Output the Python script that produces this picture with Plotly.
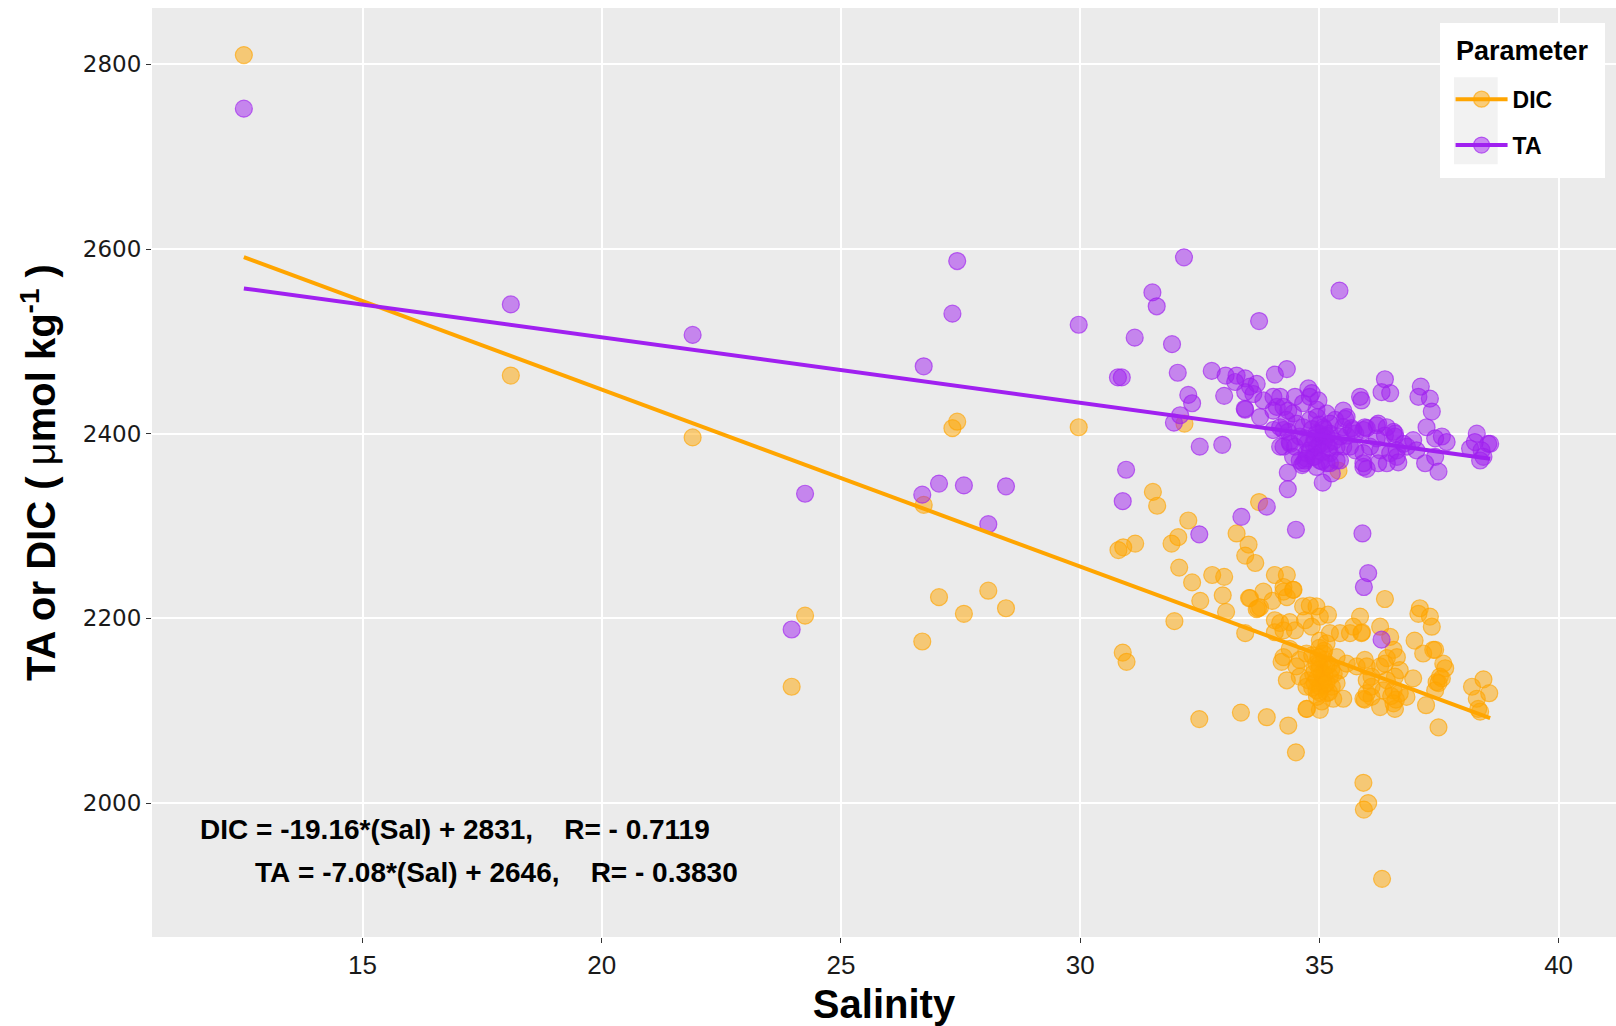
import plotly.graph_objects as go

# ---------------- data ----------------
sal_ta = [12.52, 18.10, 21.90, 23.97, 24.25, 26.70, 26.73, 27.05, 27.33, 27.43, 27.57, 28.08, 28.45, 29.97,
          30.79, 30.87, 30.96, 30.89, 31.14, 31.51, 31.60, 31.92, 32.17, 32.04, 32.75, 33.04, 32.26, 32.34,
          33.01, 32.09, 31.96, 32.50, 32.97, 33.37, 33.90, 32.49, 33.74, 33.24, 33.45, 33.55, 33.69, 33.62,
          33.45, 33.45, 33.76, 33.27, 33.44, 33.83,
          34.07, 34.32, 34.04, 34.18, 34.04, 34.04, 34.11, 34.25, 34.35, 34.25, 34.25, 34.39, 34.18,
          34.51, 34.34, 34.34, 35.07, 34.64, 34.73, 35.26, 34.67, 35.22,
          35.42, 35.90, 36.02, 35.93, 36.30,
          34.77, 34.84, 34.80, 34.98, 34.49, 34.66,
          35.50, 35.57, 35.54, 35.71, 35.64,
          34.38, 34.49, 34.59, 34.73, 34.70, 34.87, 35.01, 35.22, 35.36, 35.43, 35.50, 35.33, 35.15, 34.94,
          34.80, 34.66, 34.52, 34.45, 34.31, 34.18, 34.35, 34.94, 35.08, 35.22, 34.87, 35.01, 35.15, 34.80,
          34.59, 34.45, 35.36, 35.50, 35.43, 35.15, 34.94, 35.57, 35.67, 35.22, 35.08, 34.70,
          35.85, 35.88, 36.37, 36.30, 36.48,
          35.95, 36.20, 36.41, 36.55, 35.99, 36.20, 36.37, 36.58, 36.76, 36.62, 35.75,
          35.75, 35.92, 36.06, 36.27, 36.48, 36.62,
          35.92, 35.99, 36.23, 36.41, 36.65, 35.92,
          35.92, 36.23, 36.58,
          37.12, 37.07, 37.31, 37.35, 37.24, 37.42, 37.56, 37.66, 36.96, 36.83, 37.03, 37.42, 37.21, 37.49,
          38.29, 38.25, 38.53, 38.39, 38.15, 38.43, 38.36, 38.57,
          34.90, 35.00, 35.10, 34.95, 35.05, 35.15, 34.85, 35.00, 35.10, 34.90, 35.20, 34.75, 35.30, 35.05,
          34.95]
ta = [2752, 2540, 2507, 2188, 2335, 2334, 2473, 2346, 2530, 2587, 2344, 2302, 2343, 2518,
      2461, 2461, 2361, 2327, 2504, 2553, 2538, 2497, 2591, 2466, 2468, 2463, 2442, 2433,
      2441, 2420, 2412, 2386, 2388, 2310, 2321, 2291, 2522, 2456, 2460, 2451, 2454, 2443,
      2445, 2426, 2418, 2463, 2427, 2436,
      2464, 2470, 2440, 2440, 2425, 2404, 2429, 2429, 2425, 2404, 2386, 2389, 2386,
      2296, 2358, 2340, 2347, 2366, 2373, 2357, 2368, 2368,
      2555, 2292, 2249, 2234, 2177,
      2449, 2444, 2440, 2436, 2440, 2433,
      2425, 2418, 2416, 2404, 2386,
      2391, 2386, 2397, 2379, 2371, 2375, 2371, 2379, 2386, 2397, 2407, 2415, 2422, 2426,
      2415, 2407, 2411, 2422, 2415, 2407, 2402, 2400, 2397, 2400, 2389, 2389, 2389, 2382,
      2371, 2375, 2371, 2386, 2371, 2368, 2364, 2398, 2406, 2411, 2407, 2395,
      2440, 2436, 2459, 2445, 2444,
      2407, 2409, 2407, 2402, 2406, 2395, 2398, 2397, 2389, 2382, 2400,
      2382, 2379, 2386, 2382, 2379, 2375,
      2364, 2362, 2368, 2368, 2369, 2368,
      2404, 2411, 2400,
      2451, 2440, 2438, 2424, 2407, 2395, 2397, 2391, 2393, 2386, 2382, 2375, 2368, 2359,
      2400, 2391, 2389, 2382, 2384, 2375, 2371, 2389,
      2395, 2400, 2392, 2385, 2380, 2398, 2405, 2410, 2405, 2375, 2385, 2390, 2392, 2370,
      2418]

sal_dic = [12.52, 18.10, 21.90, 23.97, 24.25, 26.70, 26.73, 27.05, 27.33, 27.43, 27.57, 28.08, 28.45, 29.97,
           32.18, 35.40, 33.74, 31.52, 31.61, 32.26, 32.05, 31.91, 33.27, 33.52, 33.45, 33.66, 30.80, 30.90,
           31.15, 32.07, 32.34, 32.76, 33.01, 32.98, 32.51, 33.05, 31.97, 33.55, 33.83, 34.02, 33.69, 33.76,
           34.07, 34.32, 34.25, 34.46, 34.32, 33.45, 30.89, 30.97,
           36.37, 37.10, 37.07, 37.31, 37.35, 35.85, 35.89, 36.27, 36.48, 36.99, 37.17, 37.42, 37.59, 37.63,
           37.45, 37.52, 38.19, 38.43, 38.55, 38.29, 38.36, 37.23, 37.49, 32.49, 33.36, 33.90, 34.35, 34.74,
           35.01, 34.51, 35.92, 36.02, 35.93, 36.31,
           33.53, 33.72, 34.25, 34.45, 34.07, 34.18, 34.38, 34.25, 34.07, 34.49, 34.66, 34.80, 34.94, 34.70,
           34.84, 35.01, 35.18,
           34.25, 34.21, 34.38, 34.59, 34.52, 34.73,
           34.32, 34.59, 34.77, 34.73, 34.94, 35.15, 35.29, 35.50, 35.36, 35.43, 35.57, 35.36,
           34.73,
           35.01, 35.15, 35.08, 34.94, 35.15, 34.87, 35.08, 35.22, 35.01, 35.26,
           35.22, 35.43, 35.64, 35.88, 35.71,
           35.95, 35.78, 35.99, 36.09, 35.92, 35.99,
           36.55, 36.62, 36.41, 36.27, 36.37, 36.68, 36.58, 36.41, 36.34, 36.55, 36.68, 36.55, 36.27, 36.09,
           35.95, 36.58, 36.82, 36.96, 36.09, 35.99,
           37.38, 37.56, 37.49, 37.42, 38.32,
           35.00, 35.10, 34.90, 35.20, 35.05, 34.95, 35.30, 34.85, 35.10, 35.00, 36.60, 36.50,
           35.00, 35.05, 34.95, 35.10, 35.00, 34.90, 35.20, 35.15, 34.98, 35.10, 34.85, 35.25]
dic = [2810, 2463, 2396, 2126, 2203, 2175, 2323, 2223, 2406, 2413, 2205, 2230, 2211, 2407,
       2411, 2360, 2326, 2337, 2322, 2306, 2288, 2281, 2292, 2280, 2268, 2260, 2274, 2277,
       2281, 2255, 2239, 2247, 2245, 2225, 2219, 2207, 2197, 2222, 2229, 2219, 2210, 2212,
       2247, 2247, 2229, 2231, 2223, 2184, 2163, 2153,
       2221, 2211, 2205, 2202, 2191, 2202, 2185, 2191, 2180, 2176, 2162, 2166, 2151, 2146,
       2131, 2137, 2126, 2134, 2119, 2113, 2099, 2106, 2082, 2091, 2098, 2093, 2084, 2102,
       2101, 2055, 2022, 2000, 1993, 1918,
       2222, 2211, 2234, 2231, 2198, 2195, 2196, 2187, 2185, 2187, 2213, 2214, 2213, 2198,
       2191, 2202, 2204,
       2158, 2153, 2167, 2155, 2148, 2162,
       2133, 2137, 2133, 2126, 2122, 2119, 2113, 2113, 2130, 2144, 2151, 2158,
       2102,
       2176, 2173, 2162, 2151, 2148, 2140, 2133, 2137, 2126, 2126,
       2184, 2184, 2184, 2184, 2191,
       2155, 2148, 2148, 2137, 2113, 2119,
       2166, 2158, 2157, 2148, 2151, 2144, 2137, 2133, 2122, 2122, 2119, 2108, 2104, 2115,
       2112, 2102, 2115, 2135, 2126, 2133,
       2166, 2135, 2130, 2122, 2102,
       2145, 2140, 2130, 2120, 2110, 2115, 2140, 2160, 2155, 2168, 2112, 2116,
       2150, 2140, 2135, 2128, 2120, 2145, 2150, 2130, 2158, 2165, 2125, 2145]

# linear fits as printed on the chart: value = slope*Sal + intercept
dic_fit = (-19.16, 2831)
ta_fit = (-7.08, 2646)
eq_labels = ["DIC = -19.16*(Sal) + 2831,    R= - 0.7119",
             "TA = -7.08*(Sal) + 2646,    R= - 0.3830"]
series_names = ["DIC", "TA"]
x_ticks = [15, 20, 25, 30, 35, 40]
y_ticks = [2000, 2200, 2400, 2600, 2800]

# ---------------- styling ----------------
ORANGE = "#FFA500"
PURPLE = "#A020F0"
NARROW = "Liberation Sans Narrow, Arial Narrow, Liberation Sans, Arial, sans-serif"

def rgba(hexcol, a):
    h = hexcol.lstrip("#")
    return "rgba(%d,%d,%d,%s)" % (int(h[0:2], 16), int(h[2:4], 16), int(h[4:6], 16), a)

fig = go.Figure()

for name, xs, ys, col in [("DIC", sal_dic, dic, ORANGE), ("TA", sal_ta, ta, PURPLE)]:
    fig.add_trace(go.Scatter(
        x=xs, y=ys, mode="markers", showlegend=False, name=name,
        marker=dict(size=17, color=rgba(col, 0.5), line=dict(color=rgba(col, 0.65), width=1.2))))

smin = min(sal_ta + sal_dic)
smax = max(sal_ta + sal_dic)
for name, fit, col in [("DIC", dic_fit, ORANGE), ("TA", ta_fit, PURPLE)]:
    xs = [smin, smax]
    ys = [fit[0] * s + fit[1] for s in xs]
    fig.add_trace(go.Scatter(x=xs, y=ys, mode="lines", showlegend=False, name=name,
                             line=dict(color=col, width=4)))

# legend-only entries (line + point glyph like ggplot keys)
for name, col in zip(series_names, [ORANGE, PURPLE]):
    fig.add_trace(go.Scatter(
        x=[None], y=[None], mode="lines+markers", name=name, legendgroup=name,
        line=dict(color=col, width=4),
        marker=dict(size=17, color=rgba(col, 0.5), line=dict(color=rgba(col, 0.65), width=1.2))))

# equation annotations
fig.add_annotation(x=11.57, y=1971, xref="x", yref="y", xanchor="left", yanchor="middle",
                   text="<b>" + eq_labels[0].replace(" ", "\u00a0") + "</b>", showarrow=False,
                   font=dict(family=NARROW, size=28, color="black"))
fig.add_annotation(x=12.71, y=1925, xref="x", yref="y", xanchor="left", yanchor="middle",
                   text="<b>" + eq_labels[1].replace(" ", "\u00a0") + "</b>", showarrow=False,
                   font=dict(family=NARROW, size=28, color="black"))

# legend background boxes (ggplot-like white box and grey key area)
fig.add_shape(type="rect", xref="paper", yref="paper", x0=0.8798, x1=0.9925, y0=0.8170, y1=0.9839,
              fillcolor="white", line=dict(width=0), layer="above")
fig.add_shape(type="rect", xref="paper", yref="paper", x0=0.8893, x1=0.9192, y0=0.8318, y1=0.9254,
              fillcolor="#F2F2F2", line=dict(width=0), layer="above")
# legend title
fig.add_annotation(x=0.8893, y=0.9535, xref="paper", yref="paper", xanchor="left", yanchor="middle",
                   text="<b>Parameter</b>", showarrow=False,
                   font=dict(family="Liberation Sans, Arial", size=27, color="black"))

fig.update_layout(
    width=1616, height=1026,
    margin=dict(l=152, r=0, t=8, b=89),
    paper_bgcolor="white", plot_bgcolor="#EBEBEB",
    showlegend=True,
    legend=dict(
        x=0.887, y=0.925, xanchor="left", yanchor="top",
        bgcolor="rgba(0,0,0,0)", borderwidth=0,
        font=dict(family="Liberation Sans, Arial", size=23, color="black", weight="bold"),
        itemwidth=52, tracegroupgap=13,
    ),
    xaxis=dict(
        range=[10.6, 41.2], tickvals=x_ticks, ticktext=[str(v) for v in x_ticks],
        showgrid=True, gridcolor="white", gridwidth=2, zeroline=False, showline=False,
        ticks="outside", ticklen=5, tickwidth=1, tickcolor="#333333",
        tickfont=dict(family=NARROW, size=26, color="#1a1a1a"),
        title=dict(text="<b>Salinity</b>", font=dict(family=NARROW, size=40, color="black"), standoff=10),
    ),
    yaxis=dict(
        range=[1855, 2861], tickvals=y_ticks, ticktext=[str(v) for v in y_ticks],
        showgrid=True, gridcolor="white", gridwidth=2, zeroline=False, showline=False,
        ticks="outside", ticklen=5, tickwidth=1, tickcolor="#333333",
        tickfont=dict(family="DejaVu Sans", size=23, color="#1a1a1a"),
        title=dict(text="<b>TA or DIC ( </b>\u03bc<b>mol kg<sup>-1</sup> )</b>",
                   font=dict(family=NARROW, size=40, color="black"), standoff=14),
    ),
)

fig.write_html("out.html")
